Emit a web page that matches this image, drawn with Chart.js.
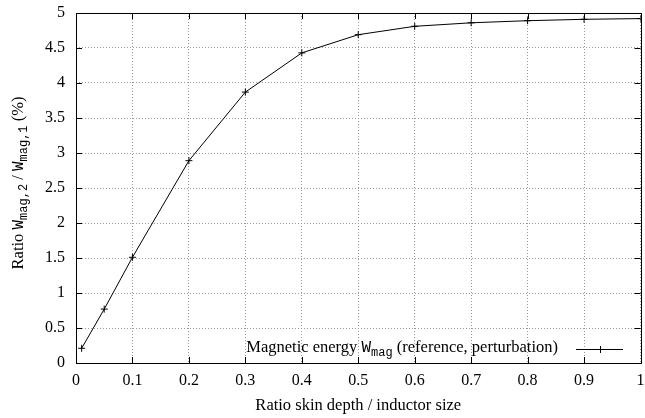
<!DOCTYPE html>
<html>
<head>
<meta charset="utf-8">
<script src="https://cdn.jsdelivr.net/npm/chart.js@4/dist/chart.umd.min.js"></script>
<style>
  html, body { margin: 0; padding: 0; background: #fff; }
  #wrap { width: 645px; height: 418px; position: relative; }
</style>
</head>
<body>
<div id="wrap"><canvas id="c" width="645" height="418"></canvas></div>
<script>
// ---- data ----
const skinRatio = [0.01, 0.05, 0.1, 0.2, 0.3, 0.4, 0.5, 0.6, 0.7, 0.8, 0.9, 1.0];
const energyRatio = [0.21, 0.77, 1.51, 2.89, 3.87, 4.43, 4.69, 4.81, 4.86, 4.89, 4.91, 4.92];
const xTickLabels = ['0', '0.1', '0.2', '0.3', '0.4', '0.5', '0.6', '0.7', '0.8', '0.9', '1'];
const yTickLabels = ['0', '0.5', '1', '1.5', '2', '2.5', '3', '3.5', '4', '4.5', '5'];
const xTitleParts = [{t: 'Ratio skin depth / inductor size'}];
const yTitleParts = [
  {t: 'Ratio '}, {t: 'W', mono: true}, {t: 'mag,2', mono: true, sub: true},
  {t: ' / '}, {t: 'W', mono: true}, {t: 'mag,1', mono: true, sub: true}, {t: ' (%)'}
];
const legendParts = [
  {t: 'Magnetic energy '}, {t: 'W', mono: true}, {t: 'mag', mono: true, sub: true},
  {t: ' (reference, perturbation)'}
];

const SERIF = '"Liberation Serif", "Times New Roman", serif';
const MONO = '"Liberation Mono", "Courier New", monospace';

function partFont(p) {
  if (p.sub) return '12px ' + (p.mono ? MONO : SERIF);
  return (p.mono ? '16px ' + MONO : '16.5px ' + SERIF);
}
function measureParts(ctx, parts) {
  let w = 0;
  for (const p of parts) { ctx.font = partFont(p); w += ctx.measureText(p.t).width; }
  return w;
}
function drawParts(ctx, parts, x, y) {
  ctx.textBaseline = 'alphabetic';
  ctx.textAlign = 'left';
  for (const p of parts) {
    ctx.font = partFont(p);
    ctx.fillText(p.t, x, y + (p.sub ? 4 : 0));
    x += ctx.measureText(p.t).width;
  }
}

const decorPlugin = {
  id: 'decor',
  afterDraw(chart) {
    const ctx = chart.ctx;
    const a = chart.chartArea;
    const xs = chart.scales.x, ys = chart.scales.y;
    ctx.save();
    ctx.fillStyle = '#000';
    ctx.strokeStyle = '#000';
    ctx.setLineDash([]);
    // border
    ctx.lineWidth = 1;
    ctx.strokeRect(Math.round(a.left) + 0.5, Math.round(a.top) + 0.5,
      Math.round(a.right - a.left), Math.round(a.bottom - a.top));
    // inward ticks on all sides
    const tl = 6;
    ctx.beginPath();
    xs.ticks.forEach((t) => {
      const px = Math.round(xs.getPixelForValue(t.value)) + 0.5;
      ctx.moveTo(px, a.bottom); ctx.lineTo(px, a.bottom - tl);
      ctx.moveTo(px, a.top); ctx.lineTo(px, a.top + tl);
    });
    ys.ticks.forEach((t) => {
      const py = Math.round(ys.getPixelForValue(t.value)) + 0.5;
      ctx.moveTo(a.left, py); ctx.lineTo(a.left + tl, py);
      ctx.moveTo(a.right, py); ctx.lineTo(a.right - tl, py);
    });
    ctx.stroke();
    // x title
    const xw = measureParts(ctx, xTitleParts);
    drawParts(ctx, xTitleParts, (a.left + a.right) / 2 - xw / 2, 410);
    // y title (rotated)
    const yw = measureParts(ctx, yTitleParts);
    ctx.save();
    ctx.translate(23, 183);
    ctx.rotate(-Math.PI / 2);
    drawParts(ctx, yTitleParts, -yw / 2, 0);
    ctx.restore();
    // legend
    const lw = measureParts(ctx, legendParts);
    drawParts(ctx, legendParts, 558 - lw, 352);
    ctx.beginPath();
    ctx.lineWidth = 1;
    ctx.moveTo(576, 349.5); ctx.lineTo(623, 349.5);
    ctx.moveTo(600.5, 346); ctx.lineTo(600.5, 353);
    ctx.moveTo(597, 349.5); ctx.lineTo(604, 349.5);
    ctx.stroke();
    ctx.restore();
  }
};

function noPad(s) { s.paddingTop = 0; s.paddingBottom = 0; s.paddingLeft = 0; s.paddingRight = 0; }

new Chart(document.getElementById('c'), {
  type: 'line',
  plugins: [decorPlugin],
  data: {
    datasets: [{
      label: 'Magnetic energy Wmag (reference, perturbation)',
      data: skinRatio.map((x, i) => ({x: x, y: energyRatio[i]})),
      borderColor: '#000',
      backgroundColor: '#000',
      borderWidth: 1,
      pointStyle: 'cross',
      pointRadius: 3.5,
      pointBorderWidth: 1,
      pointHoverRadius: 3.5,
      tension: 0,
      fill: false
    }]
  },
  options: {
    responsive: false,
    animation: false,
    devicePixelRatio: 1,
    layout: { padding: { top: 13, right: 3, left: 0, bottom: 0 } },
    plugins: { legend: { display: false }, tooltip: { enabled: false } },
    scales: {
      x: {
        type: 'linear', min: 0, max: 1,
        afterFit(s) { s.height = 55; noPad(s); },
        ticks: {
          stepSize: 0.1, color: '#000', padding: 8,
          font: { family: SERIF, size: 16 },
          maxRotation: 0, autoSkip: false,
          callback: (v) => xTickLabels[Math.round(v * 10)]
        },
        grid: { color: '#999', lineWidth: 1, drawTicks: false, tickLength: 0 },
        border: { display: false, dash: [1, 2] }
      },
      y: {
        type: 'linear', min: 0, max: 5,
        afterFit(s) { s.width = 76; noPad(s); },
        ticks: {
          stepSize: 0.5, color: '#000', padding: 11,
          font: { family: SERIF, size: 16 },
          callback: (v) => yTickLabels[Math.round(v * 2)]
        },
        grid: { color: '#999', lineWidth: 1, drawTicks: false, tickLength: 0 },
        border: { display: false, dash: [1, 2] }
      }
    }
  }
});
</script>
</body>
</html>
